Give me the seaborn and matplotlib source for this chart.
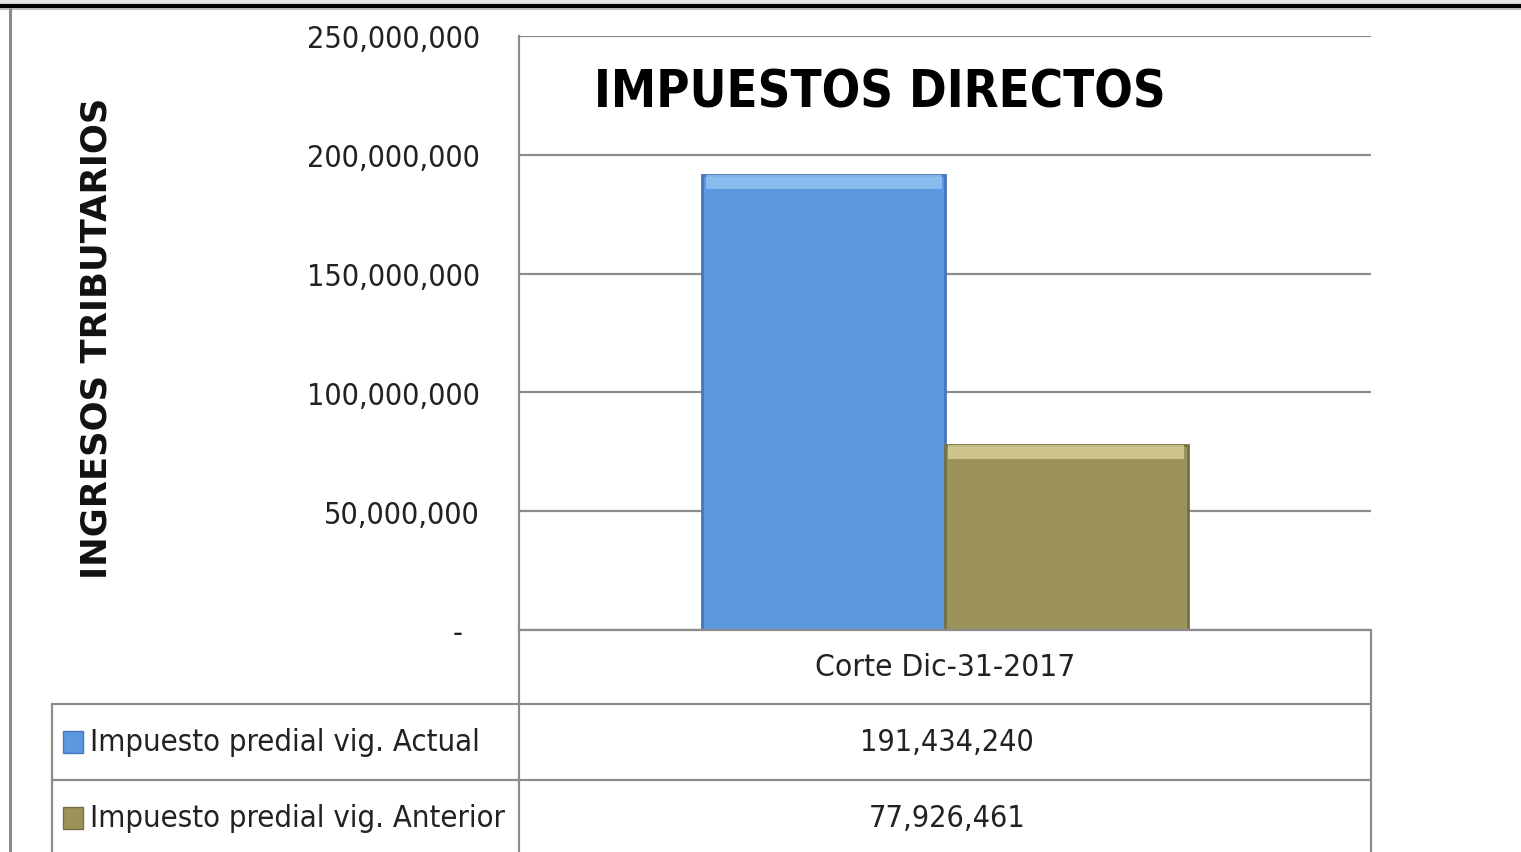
import pandas as pd
import numpy as np
import matplotlib.pyplot as plt
import seaborn as sns
from matplotlib import font_manager as fm
from matplotlib.font_manager import FontProperties
from matplotlib.patches import Rectangle
from matplotlib.lines import Line2D
from matplotlib.ticker import FuncFormatter

# datos del grafico
categorias = ['Corte Dic-31-2017']
series = ['Impuesto predial vig. Actual', 'Impuesto predial vig. Anterior']
valores = [191434240, 77926461]
y_ticks = [0, 50000000, 100000000, 150000000, 200000000, 250000000]
titulo = 'IMPUESTOS DIRECTOS'
eje_y = 'INGRESOS TRIBUTARIOS'

colores = ['#5C98DF', '#9C925C']
bordes = ['#4677B8', '#767045']
claros = ['#9FCBF6', '#E3DCA0']

W, H = 1521, 853
def fx(x):
    return x / W
def fy(y):
    return 1 - y / H

sns.set_theme(style='white')

# buscar una fuente estrecha (parecida a Calibri); si no hay, Liberation Sans mas chica
def es_estrecha(f):
    st = f.stretch
    if isinstance(st, str):
        return st in ('condensed', 'semi-condensed', 'extra-condensed', 'ultra-condensed')
    return st < 500

def peso(f):
    w = f.weight
    if isinstance(w, str):
        return {'bold': 700, 'normal': 400, 'regular': 400}.get(w, 400)
    return w

estrechas = [f for f in fm.fontManager.ttflist
             if (es_estrecha(f) or 'Narrow' in f.name or 'Condensed' in f.name) and f.style == 'normal']
reg = [f for f in estrechas if 350 <= peso(f) <= 450]
neg = [f for f in estrechas if peso(f) >= 650]
if reg:
    fp = FontProperties(fname=reg[0].fname)
    fpb = FontProperties(fname=neg[0].fname) if neg else FontProperties(fname=reg[0].fname, weight='bold')
    k = 0.81
else:
    fp = FontProperties(family='Liberation Sans')
    fpb = FontProperties(family='Liberation Sans', weight='bold')
    k = 0.66

df = pd.DataFrame({
    'corte': [categorias[0]] * len(series),
    'serie': series,
    'valor': valores,
})

fig = plt.figure(figsize=(W / 100, H / 100), dpi=100)
fig.patch.set_facecolor('white')

# marco superior e izquierdo
fig.patches.append(Rectangle((0, fy(5)), 1, 5 / H, transform=fig.transFigure,
                             facecolor='#e4e4e4', edgecolor='none'))
fig.lines.append(Line2D([0, 1], [fy(7), fy(7)], transform=fig.transFigure,
                        color='black', lw=3))
fig.lines.append(Line2D([0, 1], [fy(9.5), fy(9.5)], transform=fig.transFigure,
                        color='#b0b0b0', lw=1.2))
fig.lines.append(Line2D([fx(9.5), fx(9.5)], [fy(10), 0], transform=fig.transFigure,
                        color='#8a8a8a', lw=2.2))

ax = fig.add_axes([fx(519), fy(631), 852 / W, 594 / H])
sns.barplot(data=df, x='corte', y='valor', hue='serie', palette=colores,
            width=0.57, ax=ax, legend=False, saturation=1)

alto = 14 * 250000000 / 594
for p, ec, cl in zip(ax.patches, bordes, claros):
    p.set_edgecolor(ec)
    p.set_linewidth(2)
    p.set_zorder(3)
    # brillo superior tipo bisel
    ax.add_patch(Rectangle((p.get_x() + 0.004, p.get_height() - alto),
                           p.get_width() - 0.008, alto, facecolor=cl,
                           edgecolor='none', alpha=0.7, zorder=4))

ax.set_ylim(0, 250000000)
ax.set_xlim(-0.5, 0.5)
ax.set_yticks(y_ticks)
ax.yaxis.set_major_formatter(FuncFormatter(lambda v, pos: '-  ' if v == 0 else f'{v:,.0f}'))
ax.tick_params(axis='y', pad=28, length=0, labelcolor='#222222')
for t in ax.get_yticklabels():
    t.set_fontproperties(fp)
    t.set_fontsize(27 * k)
ax.set_xticks([])
ax.set_xlabel('')
ax.set_ylabel('')
ax.grid(axis='y', color='#8c8c8c', lw=1.6, zorder=0)
ax.set_axisbelow(True)
for s in ['top', 'right', 'bottom']:
    ax.spines[s].set_visible(False)
ax.spines['left'].set_color('#8c8c8c')
ax.spines['left'].set_linewidth(1.6)

ax.text(0.424, 0.905, titulo, transform=ax.transAxes, ha='center', va='center',
        fontproperties=fpb, fontsize=45 * k, color='black')

fig.text(fx(97), fy(338), eje_y, rotation=90, ha='center', va='center',
         fontsize=25.5, fontweight='bold', color='#111111', family='DejaVu Sans')

# tabla de datos
gris = '#8c8c8c'
for y in [705, 781]:
    fig.lines.append(Line2D([fx(52), fx(1371)], [fy(y), fy(y)], transform=fig.transFigure,
                            color=gris, lw=1.6))
fig.lines.append(Line2D([fx(519), fx(1371)], [fy(631), fy(631)], transform=fig.transFigure,
                        color=gris, lw=1.6))
fig.lines.append(Line2D([fx(52), fx(52)], [fy(705), 0], transform=fig.transFigure,
                        color=gris, lw=1.6))
fig.lines.append(Line2D([fx(519), fx(519)], [fy(631), 0], transform=fig.transFigure,
                        color=gris, lw=1.6))
fig.lines.append(Line2D([fx(1371), fx(1371)], [fy(631), 0], transform=fig.transFigure,
                        color=gris, lw=1.6))

fig.text(fx(945), fy(668), categorias[0], ha='center', va='center',
         fontproperties=fp, fontsize=28 * k, color='#222222')
filas_y = [743, 819]
for serie, valor, c, ec, yy in zip(series, valores, colores, bordes, filas_y):
    fig.patches.append(Rectangle((fx(63), fy(yy + 11)), 20 / W, 22 / H,
                                 transform=fig.transFigure, facecolor=c, edgecolor=ec, lw=1))
    fig.text(fx(90), fy(yy), serie, ha='left', va='center',
             fontproperties=fp, fontsize=27.5 * k, color='#222222')
    fig.text(fx(947), fy(yy), f'{valor:,.0f}', ha='center', va='center',
             fontproperties=fp, fontsize=27 * k, color='#222222')

plt.savefig('out.png', dpi=100)
